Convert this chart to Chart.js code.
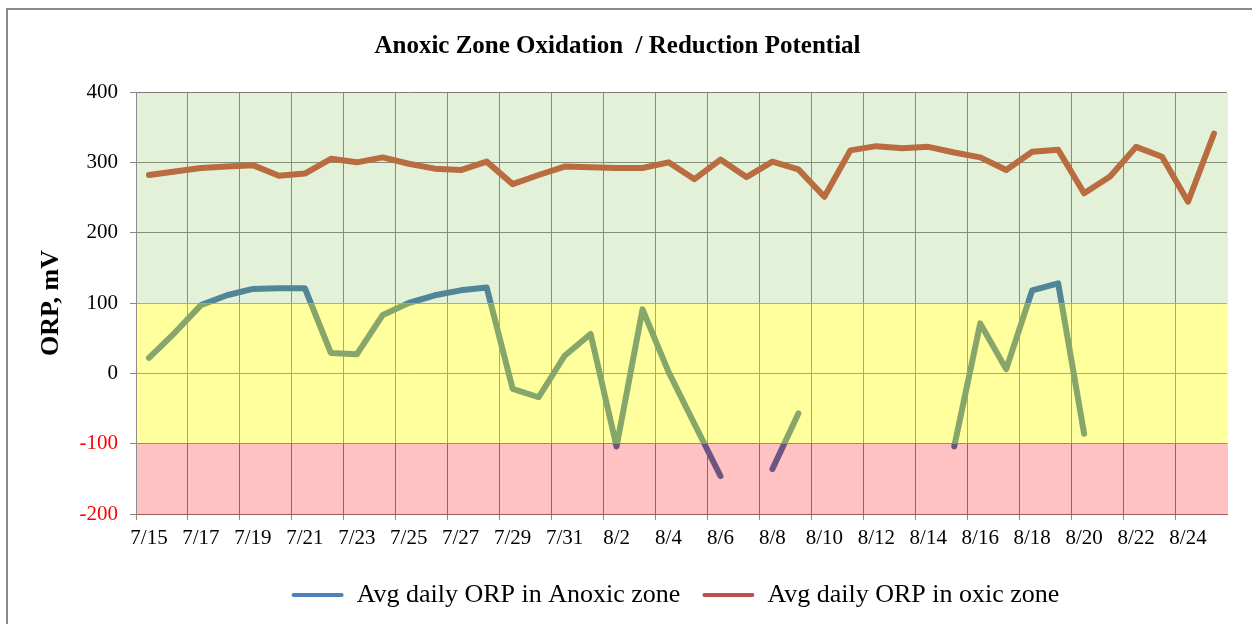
<!DOCTYPE html>
<html>
<head>
<meta charset="utf-8">
<script src="https://cdn.jsdelivr.net/npm/chart.js@4.4.1/dist/chart.umd.min.js"></script>
<style>
  html, body { margin: 0; padding: 0; background: #fff; }
  canvas { display: block; }
</style>
</head>
<body>
<canvas id="c" width="1252" height="624"></canvas>
<script>
// ---- data ----
const dayLabels = [
  '7/15','7/16','7/17','7/18','7/19','7/20','7/21','7/22','7/23','7/24','7/25','7/26','7/27','7/28','7/29','7/30','7/31',
  '8/1','8/2','8/3','8/4','8/5','8/6','8/7','8/8','8/9','8/10','8/11','8/12','8/13','8/14','8/15','8/16','8/17','8/18',
  '8/19','8/20','8/21','8/22','8/23','8/24','8/25'
];
const anoxicORP = [
  22, 58, 97, 111, 120, 121, 121, 29, 27, 83, 100, 111, 118, 122, -22, -34, 25,
  56, -104, 91, 2, -72, -146, null, -136, -57, null, null, null, null, null, -104, 71, 6, 118,
  128, -86, null, null, null, null, null
];
const oxicORP = [
  282, 287, 292, 294, 296, 281, 284, 305, 300, 307, 298, 291, 289, 301, 269, 282, 294,
  293, 292, 292, 300, 276, 304, 279, 301, 290, 251, 317, 323, 320, 322, 314, 307, 289, 315,
  318, 256, 280, 322, 308, 244, 341
];
const seriesNames = ['Avg daily ORP in Anoxic zone', 'Avg daily ORP in oxic zone'];
const yMin = -200, yMax = 400, yStep = 100;
const zoneUpper = 100, zoneLower = -100;

// ---- styles ----
const SERIF = "'Liberation Serif', 'Times New Roman', Times, serif";
Chart.defaults.font.family = SERIF;
Chart.defaults.color = '#000';

const bandPlugin = {
  id: 'bands',
  beforeDraw(chart) {
    const ctx = chart.ctx;
    ctx.save();
    ctx.fillStyle = '#fff';
    ctx.fillRect(0, 0, chart.width, chart.height);
    ctx.strokeStyle = '#8a8a8a';
    ctx.lineWidth = 2;
    ctx.strokeRect(7, 9, 1400, 800);
    ctx.restore();
  },
  afterDatasetsDraw(chart) {
    const ctx = chart.ctx, ca = chart.chartArea, y = chart.scales.y;
    const rowHi = Math.round(y.getPixelForValue(zoneUpper) - 0.5);
    const rowLo = Math.round(y.getPixelForValue(zoneLower) - 0.5);
    const left = ca.left, w = ca.right - ca.left + 1;
    const top = Math.round(ca.top - 0.5) + 1;
    const bottom = Math.round(ca.bottom - 0.5) + 1;
    ctx.save();
    ctx.fillStyle = 'rgba(140,200,100,0.25)';
    ctx.fillRect(left, top, w, rowHi + 1 - top);
    ctx.fillStyle = 'rgba(255,255,0,0.38)';
    ctx.fillRect(left, rowHi, w, rowLo + 1 - rowHi);
    ctx.fillStyle = 'rgba(255,0,0,0.24)';
    ctx.fillRect(left, rowLo, w, bottom - rowLo);
    ctx.restore();
  }
};

const legendShift = {
  id: 'legendShift',
  afterLayout(chart) {
    const lg = chart.legend, ca = chart.chartArea;
    if (!lg) return;
    lg.left = ca.left - 6; lg.right = ca.right - 6; lg.width = ca.right - ca.left;
  }
};

const gridGray = 'rgb(125,125,125)';

new Chart(document.getElementById('c'), {
  type: 'line',
  data: {
    labels: dayLabels,
    datasets: [
      {
        label: seriesNames[0],
        data: anoxicORP,
        borderColor: 'rgb(62,112,170)',
        backgroundColor: '#4F81BD',
        borderWidth: 6,
        pointRadius: 0,
        pointHoverRadius: 0,
        borderJoinStyle: 'round',
        borderCapStyle: 'round',
        spanGaps: false,
        fill: false,
        tension: 0
      },
      {
        label: seriesNames[1],
        data: oxicORP,
        borderColor: 'rgb(200,78,52)',
        backgroundColor: '#C0504D',
        borderWidth: 6,
        pointRadius: 0,
        pointHoverRadius: 0,
        borderJoinStyle: 'round',
        borderCapStyle: 'round',
        fill: false,
        tension: 0
      }
    ]
  },
  options: {
    responsive: false,
    animation: false,
    devicePixelRatio: 1,
    layout: { padding: { left: 8, right: 25, top: 0, bottom: 6 } },
    plugins: {
      tooltip: { enabled: false },
      title: {
        display: true,
        text: 'Anoxic Zone Oxidation  / Reduction Potential',
        font: { size: 25, weight: 'bold', family: SERIF },
        color: '#000',
        padding: { top: 32, bottom: 30 }
      },
      legend: {
        display: true,
        position: 'bottom',
        align: 'center',
        labels: {
          font: { size: 26, family: SERIF },
          color: '#000',
          boxWidth: 52,
          boxHeight: 4,
          padding: 22,
          useBorderRadius: true,
          borderRadius: 2,
          generateLabels(chart) {
            return Chart.defaults.plugins.legend.labels.generateLabels(chart)
              .map(l => Object.assign(l, { lineWidth: 0 }));
          }
        }
      }
    },
    scales: {
      x: {
        type: 'category',
        offset: true,
        afterFit(scale) { scale.height = 46; },
        grid: {
          offset: true,
          color: ctx => (ctx.index % 2 === 0 ? gridGray : 'rgba(0,0,0,0)'),
          tickColor: ctx => (ctx.index % 2 === 0 ? '#8a8a8a' : 'rgba(0,0,0,0)'),
          tickLength: 6,
          lineWidth: 1
        },
        border: { display: true, color: gridGray, width: 1 },
        ticks: {
          autoSkip: false,
          maxRotation: 0,
          minRotation: 0,
          padding: 6,
          font: { size: 21, family: SERIF },
          color: '#000',
          callback(value, index) { return index % 2 === 0 ? dayLabels[index] : ''; }
        }
      },
      y: {
        min: yMin,
        max: yMax,
        afterFit(scale) { scale.width = 128; },
        grid: {
          color: gridGray,
          tickColor: '#8a8a8a',
          tickLength: 6,
          lineWidth: 1
        },
        border: { display: true, color: '#8c8c8c', width: 1, z: 1 },
        ticks: {
          stepSize: yStep,
          padding: 12,
          font: { size: 21, family: SERIF },
          color: ctx => (ctx.tick && ctx.tick.value < 0 ? '#ff0000' : '#000'),
          callback: v => String(v)
        },
        title: {
          display: true,
          text: 'ORP, mV',
          font: { size: 26, weight: 'bold', family: SERIF },
          color: '#000',
          padding: { top: 28, bottom: 0 }
        }
      }
    }
  },
  plugins: [bandPlugin, legendShift]
});
</script>
</body>
</html>
